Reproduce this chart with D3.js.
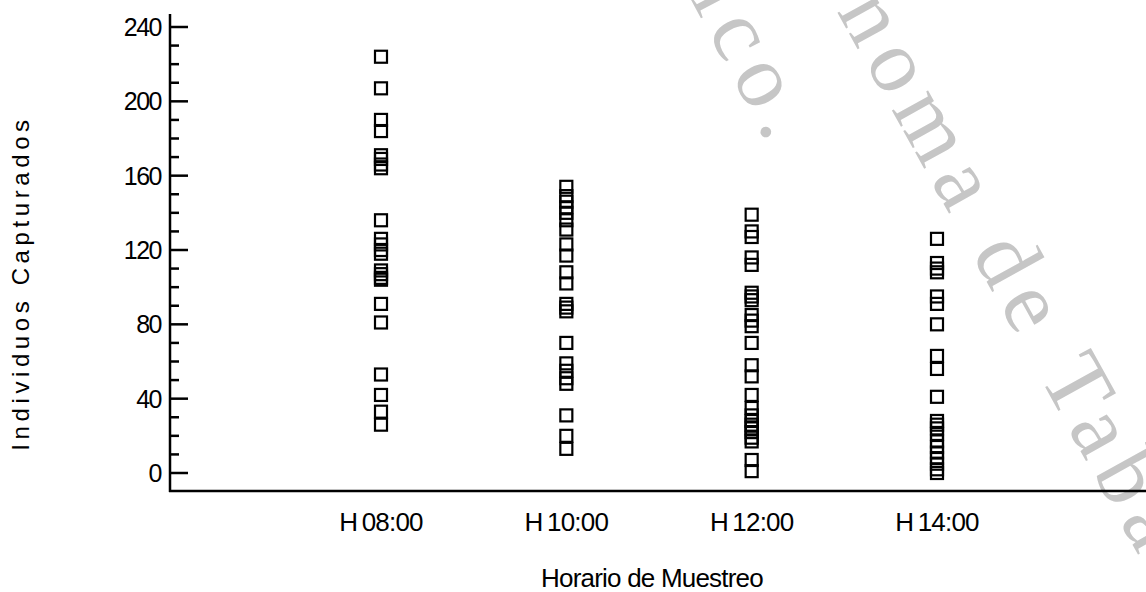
<!DOCTYPE html>
<html><head><meta charset="utf-8">
<script src="https://cdn.jsdelivr.net/npm/d3@7"></script>
<style>body{margin:0;background:#fff}svg{display:block}</style>
</head><body>
<script>
const categories = ["H08:00", "H10:00", "H12:00", "H14:00"];
const h08 = [224, 207, 190, 184, 171, 169, 166, 164, 136, 126, 123, 120, 118, 109, 107, 105, 104, 91, 81, 53, 42, 33, 26];
const h10 = [154, 149, 146, 143, 140, 136, 131, 123, 117, 108, 102, 91, 89, 87, 70, 59, 55, 51, 48, 31, 20, 13];
const h12 = [139, 130, 127, 116, 112, 97, 95, 93, 85, 82, 79, 70, 58, 52, 42, 35, 31, 28, 26, 24, 22, 19, 17, 7, 1];
const h14 = [126, 113, 110, 108, 95, 91, 80, 63, 56, 41, 28, 26, 24, 21, 17, 14, 11, 8, 5, 2, 0];
const seriesValues = [h08, h10, h12, h14];
const yTicks = [0, 40, 80, 120, 160, 200, 240];
const yTitle = "Individuos Capturados";
const xTitle = "Horario de Muestreo";

const W = 1146, H = 592;
const svg = d3.select("body").append("svg").attr("width", W).attr("height", H);

// watermark
const wm = svg.append("g").attr("fill", "#c6c6c6").attr("font-family", "Liberation Serif, serif")
  .attr("font-size", 90).attr("letter-spacing", 11);
wm.append("text").attr("transform", "translate(597,-177) rotate(62)").text("México.");
wm.append("text").attr("transform", "translate(728,-185) rotate(61)").text("Autónoma de Tabasco");

const x = d3.scalePoint().domain(categories).range([381, 937]);
const y = d3.scaleLinear().domain([0, 240]).range([473, 27]);
const axisX = 170, axisY = 491;
const font = "Liberation Sans, Arial, sans-serif";

// y axis
const ya = svg.append("g").attr("stroke", "#000").attr("stroke-width", 2.5);
ya.append("line").attr("x1", axisX).attr("x2", axisX).attr("y1", 14).attr("y2", axisY + 1);
d3.range(0, 241, 10).forEach(v => {
  const major = v % 40 === 0;
  ya.append("line").attr("x1", axisX).attr("x2", axisX + (major ? 18 : 9)).attr("y1", y(v)).attr("y2", y(v));
});
svg.append("g").selectAll("text").data(yTicks).join("text")
  .attr("x", 161).attr("y", d => y(d)).attr("dy", "0.36em").attr("text-anchor", "end")
  .attr("font-family", font).attr("font-size", 25).attr("letter-spacing", -1.5).text(d => d);

// x axis
svg.append("line").attr("x1", axisX - 1).attr("x2", W).attr("y1", axisY).attr("y2", axisY).attr("stroke", "#000").attr("stroke-width", 2.5);
svg.append("g").selectAll("text").data(categories).join("text")
  .attr("x", d => x(d)).attr("y", 531).attr("text-anchor", "middle")
  .attr("font-family", font).attr("font-size", 26).attr("letter-spacing", -0.8)
  .text(d => d.replace("H", "H\u2009"));

// titles
svg.append("text").attr("transform", "translate(29,283) rotate(-90)").attr("text-anchor", "middle")
  .attr("font-family", font).attr("font-size", 24).attr("letter-spacing", 4.6).text(yTitle);
svg.append("text").attr("x", 652).attr("y", 587).attr("text-anchor", "middle")
  .attr("font-family", font).attr("font-size", 26).attr("letter-spacing", -0.8).text(xTitle);

// points
const pts = [];
seriesValues.forEach((arr, i) => arr.forEach(v => pts.push({c: categories[i], v})));
const s = 12;
svg.append("g").selectAll("rect").data(pts).join("rect")
  .attr("x", d => x(d.c) - s / 2).attr("y", d => y(d.v) - s / 2)
  .attr("width", s).attr("height", s).attr("fill", "none").attr("stroke", "#000").attr("stroke-width", 2.2);
</script>
</body></html>
